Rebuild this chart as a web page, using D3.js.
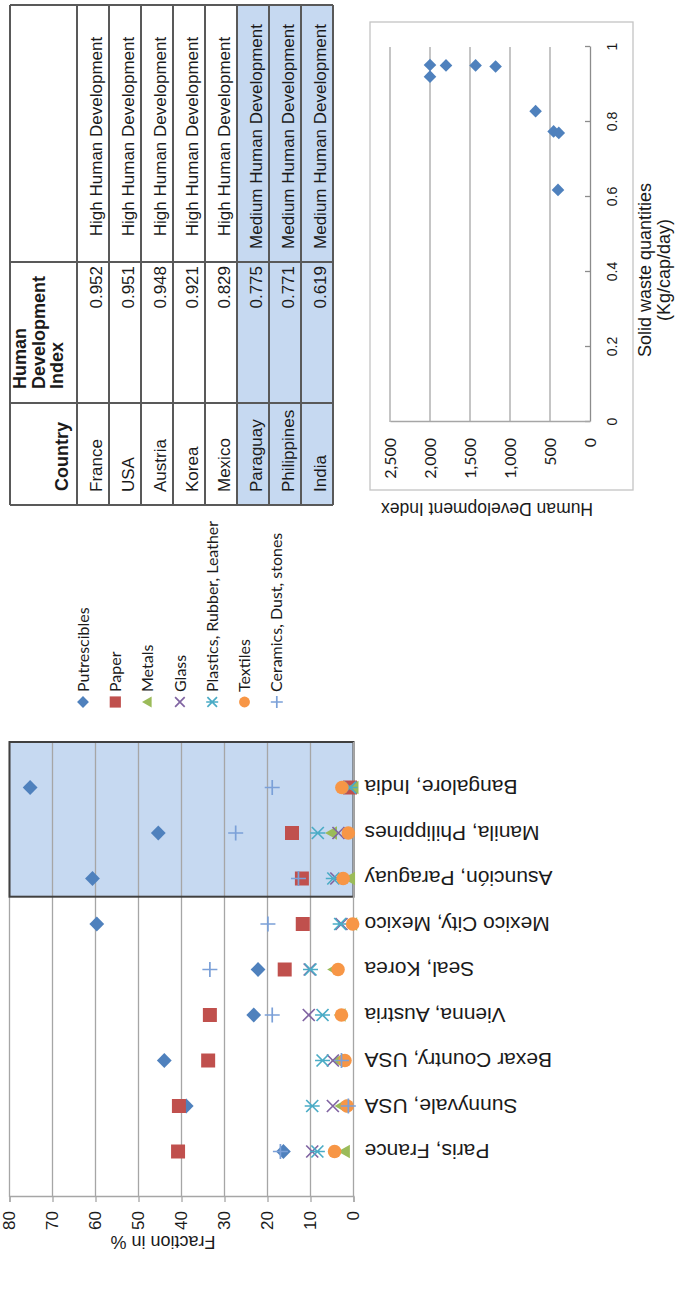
<!DOCTYPE html>
<html>
<head>
<meta charset="utf-8">
<script src="https://cdn.jsdelivr.net/npm/d3@7"></script>
<style>
  body { margin: 0; background: #fff; }
  svg { display: block; }
  text { font-family: "Liberation Sans", Arial, sans-serif; fill: #1a1a1a; }
</style>
</head>
<body>
<svg id="fig" width="678" height="1298"></svg>
<script>
// --- data ---
const cities = ["Paris, France", "Sunnyvale, USA", "Bexar Country, USA", "Vienna, Austria", "Seal, Korea",
    "Mexico City, Mexico", "Asunción, Paraguay", "Manila, Philippines", "Bangalore, India"];
const seriesNames = ["Putrescibles", "Paper", "Metals", "Glass", "Plastics, Rubber, Leather", "Textiles", "Ceramics, Dust, stones"];
const putrescibles = [16.3, 38.9, 44.0, 23.2, 22.2, 59.7, 60.7, 45.4, 75.2];
const paper        = [40.8, 40.6, 33.8, 33.4, 16.0, 11.8, 12.0, 14.3, 0.8];
const metals       = [2.0, 2.8, 3.6, 3.0, 4.5, 0.3, 0.8, 5.0, 0.0];
const glass        = [9.6, 4.8, 4.8, 10.4, 10.2, 2.8, 4.0, 3.5, 0.8];
const plastics     = [8.4, 9.6, 7.2, 7.2, 10.0, 3.1, 4.7, 8.3, 0.8];
const textiles     = [4.4, 1.5, 2.0, 2.8, 3.6, 0.2, 2.4, 1.2, 2.7];
const ceramics     = [17.0, 1.2, 2.8, 18.9, 33.4, 19.9, 12.8, 27.4, 18.9];
const shadedFrom = 6.6; // medium development cities

const countries = ["France", "USA", "Austria", "Korea", "Mexico", "Paraguay", "Philippines", "India"];
const hdi = [0.952, 0.951, 0.948, 0.921, 0.829, 0.775, 0.771, 0.619];
const level = ["High Human Development", "High Human Development", "High Human Development", "High Human Development",
    "High Human Development", "Medium Human Development", "Medium Human Development", "Medium Human Development"];

const hdiPoints = [0.952, 0.951, 0.951, 0.948, 0.921, 0.829, 0.775, 0.771, 0.619];
const wastePoints = [2000, 1800, 1430, 1180, 2000, 680, 455, 390, 400];

// --- setup: the page is laid out lying down, then turned ---
const W = 1298;
const svg = d3.select("#fig");
const page = svg.append("g").attr("transform", `translate(0,${W}) rotate(-90)`);

const series = [putrescibles, paper, metals, glass, plastics, textiles, ceramics];
const colors = ["#4f81bd", "#c0504d", "#9bbb59", "#8064a2", "#4bacc6", "#f79646", "#7ba0d8"];
const shapes = ["diamond", "square", "triangle", "x", "star", "circle", "plus"];

function marker(g, shape, color, cx, cy, s) {
    const filled = { diamond: `M0,${-7.4 * s}L${7.4 * s},0L0,${7.4 * s}L${-7.4 * s},0Z`,
        square: `M${-7 * s},${-7 * s}H${7 * s}V${7 * s}H${-7 * s}Z`,
        triangle: `M0,${-7 * s}L${6.8 * s},${5 * s}L${-6.8 * s},${5 * s}Z` };
    const a = 6 * s, b = 7.5 * s;
    const stroked = { x: `M${-a},${-a}L${a},${a}M${-a},${a}L${a},${-a}`,
        star: `M${-a},${-a}L${a},${a}M${-a},${a}L${a},${-a}M0,${-b}L0,${b}`,
        plus: `M${-b},0L${b},0M0,${-b}L0,${b}` };
    if (shape === "circle") {
        g.append("circle").attr("cx", cx).attr("cy", cy).attr("r", 6.8 * s).attr("fill", color);
    } else if (filled[shape]) {
        g.append("path").attr("transform", `translate(${cx},${cy})`).attr("d", filled[shape]).attr("fill", color);
    } else {
        g.append("path").attr("transform", `translate(${cx},${cy})`).attr("d", stroked[shape])
            .attr("fill", "none").attr("stroke", color).attr("stroke-width", 1.7);
    }
}

// --- chart 1: composition by city ---
const x1 = d3.scaleLinear().domain([0, 10]).range([101, 556]);
const y1 = d3.scaleLinear().domain([0, 80]).range([353.5, 9.5]);
const c1 = page.append("g");

c1.append("rect")
    .attr("x", x1(shadedFrom)).attr("y", y1(80))
    .attr("width", x1(10) - x1(shadedFrom)).attr("height", y1(0) - y1(80))
    .attr("fill", "#c6d9f1");

c1.append("g").selectAll("line")
    .data(y1.ticks(8).filter(d => d > 0))
    .join("line")
    .attr("x1", x1(0)).attr("x2", x1(10))
    .attr("y1", d => y1(d)).attr("y2", d => y1(d))
    .attr("stroke", "#a6a6a6").attr("stroke-width", 1.3);

c1.append("rect")
    .attr("x", x1(shadedFrom)).attr("y", y1(80))
    .attr("width", x1(10) - x1(shadedFrom)).attr("height", y1(0) - y1(80))
    .attr("fill", "none").attr("stroke", "#404040").attr("stroke-width", 2);

const yAxis1 = c1.append("g")
    .attr("transform", `translate(${x1(0)},0)`)
    .call(d3.axisLeft(y1).ticks(8).tickSize(5).tickPadding(9));
yAxis1.selectAll("line, path").attr("stroke", "#a6a6a6").attr("stroke-width", 1.3);
yAxis1.selectAll("text").style("font-size", "17px").style("font-family", "'Liberation Sans', Arial, sans-serif").attr("fill", "#1a1a1a");

c1.append("line")
    .attr("x1", x1(0)).attr("x2", x1(10))
    .attr("y1", y1(0)).attr("y2", y1(0))
    .attr("stroke", "#a6a6a6").attr("stroke-width", 1.3);

c1.append("text")
    .attr("transform", `translate(62,163) rotate(-90)`)
    .attr("text-anchor", "middle")
    .style("font-size", "18px")
    .text("Fraction in %");

c1.append("g").selectAll("text")
    .data(cities)
    .join("text")
    .attr("transform", (d, i) => `translate(${x1(i + 1)},${y1(0) + 11}) rotate(-90)`)
    .attr("text-anchor", "end")
    .attr("dy", "0.35em")
    .style("font-size", "21px")
    .text(d => d);

series.forEach((vals, k) => {
    const g = c1.append("g");
    vals.forEach((v, i) => marker(g, shapes[k], colors[k], x1(i + 1), y1(v), 1));
});

// legend
const legend = page.append("g");
seriesNames.forEach((name, k) => {
    const ly = 83 + k * 32.3;
    marker(legend, shapes[k], colors[k], 596, ly, 0.8);
    legend.append("text")
        .attr("x", 606).attr("y", ly).attr("dy", "0.35em")
        .style("font-family", "Lato, 'Open Sans', sans-serif")
        .style("font-size", "16px")
        .attr("fill", "#333")
        .text(name);
});

// --- table ---
const colX = [793, 895, 1036, 1293];
const headTop = 10, headBottom = 77, rowH = 32;
const tbl = page.append("g");
const rowTop = i => headBottom + i * rowH;

tbl.append("g").selectAll("rect")
    .data(level.map((d, i) => ({ d, i })).filter(r => r.d.startsWith("Medium")))
    .join("rect")
    .attr("x", colX[0]).attr("y", r => rowTop(r.i))
    .attr("width", colX[3] - colX[0]).attr("height", rowH)
    .attr("fill", "#c6d9f1");

const hLines = [headTop].concat(countries.map((d, i) => rowTop(i)), [rowTop(countries.length)]);
tbl.append("g").selectAll("line")
    .data(hLines)
    .join("line")
    .attr("x1", colX[0]).attr("x2", colX[3])
    .attr("y1", d => d).attr("y2", d => d)
    .attr("stroke", "#595959").attr("stroke-width", 2);
tbl.append("g").selectAll("line")
    .data(colX)
    .join("line")
    .attr("x1", d => d).attr("x2", d => d)
    .attr("y1", headTop).attr("y2", rowTop(countries.length))
    .attr("stroke", "#595959").attr("stroke-width", 2);

tbl.append("text")
    .attr("x", colX[0] + 14).attr("y", 68)
    .style("font-size", "18px").style("font-weight", "bold")
    .text("Country");
["Human", "Development", "Index"].forEach((t, i) => {
    tbl.append("text")
        .attr("x", colX[1] + 14).attr("y", 26 + i * 18.5)
        .style("font-size", "18px").style("font-weight", "bold")
        .text(t);
});

const rows = tbl.append("g").selectAll("g")
    .data(countries)
    .join("g")
    .attr("transform", (d, i) => `translate(0,${rowTop(i) + rowH - 7.5})`);
rows.append("text")
    .attr("x", colX[0] + 13)
    .style("font-size", "17px")
    .text(d => d);
rows.append("text")
    .attr("x", colX[2] - 4)
    .attr("text-anchor", "end")
    .style("font-size", "17px")
    .text((d, i) => d3.format(".3f")(hdi[i]));
rows.append("text")
    .attr("x", (colX[2] + colX[3]) / 2 - 3)
    .attr("text-anchor", "middle")
    .style("font-size", "17px")
    .text((d, i) => level[i]);

// --- chart 2: HDI vs waste ---
const x2 = d3.scaleLinear().domain([0, 1]).range([876, 1251]);
const y2 = d3.scaleLinear().domain([0, 2500]).range([590, 390]);
const c2 = page.append("g");

c2.append("rect")
    .attr("x", 808).attr("y", 370).attr("width", 468).attr("height", 263)
    .attr("fill", "none").attr("stroke", "#c4c4c4").attr("stroke-width", 1.3);

c2.append("g").selectAll("line")
    .data(y2.ticks(5).filter(d => d > 0))
    .join("line")
    .attr("x1", x2(0)).attr("x2", x2(1))
    .attr("y1", d => y2(d)).attr("y2", d => y2(d))
    .attr("stroke", "#a6a6a6").attr("stroke-width", 1.3);

const xAxis2 = c2.append("g")
    .attr("transform", `translate(0,${y2(0)})`)
    .call(d3.axisBottom(x2).tickValues([0, 0.2, 0.4, 0.6, 0.8, 1]).tickSizeInner(-5).tickSizeOuter(0)
        .tickPadding(17).tickFormat(d3.format("~g")));
xAxis2.selectAll("line, path").attr("stroke", "#8c8c8c").attr("stroke-width", 1.3);
xAxis2.selectAll("text").style("font-size", "14px").style("font-family", "'Liberation Sans', Arial, sans-serif").attr("fill", "#1a1a1a");

const yAxis2 = c2.append("g")
    .attr("transform", `translate(${x2(0)},0)`)
    .call(d3.axisLeft(y2).ticks(5).tickSize(0).tickPadding(16).tickFormat(d3.format(",")));
yAxis2.selectAll("path").attr("stroke", "#a6a6a6").attr("stroke-width", 1.3);
yAxis2.selectAll("text").style("font-size", "16px").style("font-family", "Lato, 'Open Sans', sans-serif").attr("fill", "#1a1a1a");

c2.append("text")
    .attr("transform", `translate(795,487) rotate(-90)`)
    .attr("text-anchor", "middle")
    .style("font-size", "17.5px")
    .text("Human Development Index");

c2.append("text")
    .attr("x", 1028).attr("y", 651)
    .attr("text-anchor", "middle")
    .style("font-size", "18px")
    .text("Solid waste quantities");
c2.append("text")
    .attr("x", 1028).attr("y", 670)
    .attr("text-anchor", "middle")
    .style("font-size", "18px")
    .text("(Kg/cap/day)");

const pts = c2.append("g");
hdiPoints.forEach((h, i) => marker(pts, "diamond", "#4f81bd", x2(h), y2(wastePoints[i]), 0.85));
</script>
</body>
</html>
